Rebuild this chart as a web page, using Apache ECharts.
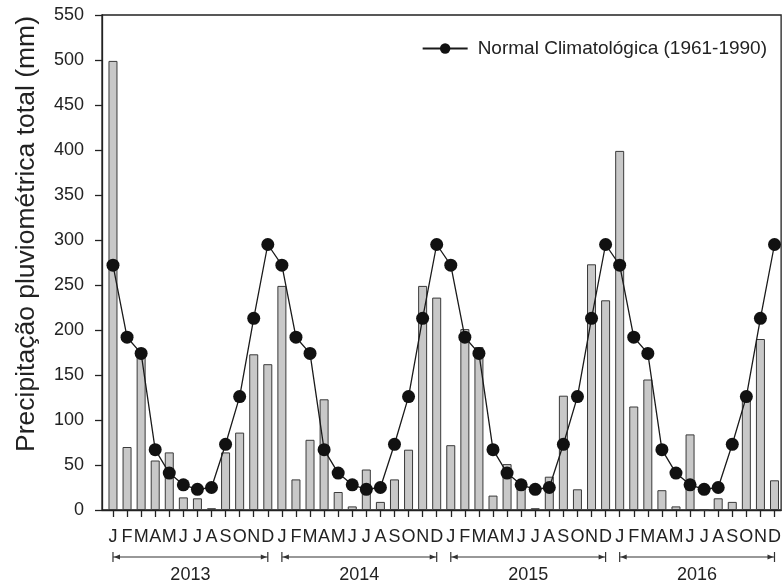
<!DOCTYPE html>
<html>
<head>
<meta charset="utf-8">
<script src="https://cdn.jsdelivr.net/npm/echarts@6/dist/echarts.min.js"></script>
<style>
  html, body { margin: 0; padding: 0; background: #fff; }
  #main { width: 784px; height: 583px; }
</style>
</head>
<body>
<div id="main"></div>
<script>
// dados mensais (mm)
const months = ['J', 'F', 'M', 'A', 'M', 'J', 'J', 'A', 'S', 'O', 'N', 'D'];
const years = ['2013', '2014', '2015', '2016'];
const rain2013 = [499, 70, 173, 55, 64, 14, 13, 2, 64, 86, 173, 162];
const rain2014 = [249, 34, 78, 123, 20, 4, 45, 9, 34, 67, 249, 236];
const rain2015 = [72, 201, 181, 16, 51, 33, 2, 37, 127, 23, 273, 233];
const rain2016 = [399, 115, 145, 22, 4, 84, 0, 13, 9, 122, 190, 33];
const normal = [272, 192, 174, 67, 41, 28, 23, 25, 73, 126, 213, 295]; // Normal 1961-1990

const font = 'Liberation Sans, Arial, sans-serif';
const rain = [].concat(rain2013, rain2014, rain2015, rain2016);
const idx = rain.map((v, i) => i);
const barData = rain.map((v, i) => [i, v]);
const lineData = idx.map(i => [i, normal[i % 12]]);

const chart = echarts.init(document.getElementById('main'));

const option = {
  animation: false,
  grid: {
    left: 102, right: -1, top: 15, bottom: 73,
    show: true, borderColor: '#222', borderWidth: 1.3
  },
  legend: {
    right: 12,
    top: 34,
    itemWidth: 45,
    itemHeight: 13,
    data: ['Normal Climatológica (1961-1990)'],
    textStyle: { fontFamily: font, fontSize: 19, color: '#222', padding: [0, 0, 0, 5] }
  },
  xAxis: {
    type: 'value',
    min: -0.78,
    max: 47.47,
    splitLine: { show: false },
    axisLine: { onZero: false, lineStyle: { color: '#222', width: 1.3 } },
    axisTick: { show: true, customValues: idx, length: 7, lineStyle: { color: '#222', width: 1.3 } },
    axisLabel: {
      customValues: idx,
      margin: 18,
      fontFamily: font, fontSize: 18, color: '#222',
      formatter: v => months[Math.round(v) % 12]
    }
  },
  yAxis: {
    type: 'value',
    min: 0,
    max: 550,
    interval: 50,
    splitLine: { show: false },
    axisLine: { show: true, onZero: false, lineStyle: { color: '#222', width: 1.3 } },
    axisTick: { show: true, length: 7, lineStyle: { color: '#222', width: 1.3 } },
    axisLabel: { margin: 18, fontFamily: font, fontSize: 18, color: '#222' }
  },
  series: [{
    name: 'Precipitação',
    type: 'bar',
    barWidth: 9,
    data: barData,
    itemStyle: { color: '#c8c8c8', borderColor: '#3a3a3a', borderWidth: 1 }
  }, {
    name: 'Normal Climatológica (1961-1990)',
    type: 'line',
    data: lineData,
    symbol: 'circle',
    symbolSize: 13,
    lineStyle: { color: '#1a1a1a', width: 1.3 },
    itemStyle: { color: '#111' },
    z: 3
  }]
};

chart.setOption(option);

// chaves dos anos e título do eixo y
const graphics = [];
const yb = 557;
years.forEach((yr, k) => {
  const x0 = chart.convertToPixel({ xAxisIndex: 0 }, k * 12);
  const x1 = chart.convertToPixel({ xAxisIndex: 0 }, k * 12 + 11);
  const st = { stroke: '#333', lineWidth: 1.2 };
  graphics.push({ type: 'line', shape: { x1: x0, y1: yb, x2: x1, y2: yb }, style: st });
  graphics.push({ type: 'line', shape: { x1: x0, y1: yb - 5, x2: x0, y2: yb + 5 }, style: st });
  graphics.push({ type: 'line', shape: { x1: x1, y1: yb - 5, x2: x1, y2: yb + 5 }, style: st });
  graphics.push({ type: 'polygon', shape: { points: [[x0 + 1, yb], [x0 + 7, yb - 2.5], [x0 + 7, yb + 2.5]] }, style: { fill: '#333' } });
  graphics.push({ type: 'polygon', shape: { points: [[x1 - 1, yb], [x1 - 7, yb - 2.5], [x1 - 7, yb + 2.5]] }, style: { fill: '#333' } });
  graphics.push({
    type: 'text', x: (x0 + x1) / 2, y: 575,
    style: { text: yr, fontFamily: font, fontSize: 18, fill: '#222', align: 'center', verticalAlign: 'middle' }
  });
});
graphics.push({
  type: 'text', x: 27, y: 234, rotation: Math.PI / 2,
  style: { text: 'Precipitação pluviométrica total (mm)', fontFamily: font, fontSize: 26.5, fill: '#222', align: 'center', verticalAlign: 'middle' }
});
chart.setOption({ graphic: graphics });
</script>
</body>
</html>
